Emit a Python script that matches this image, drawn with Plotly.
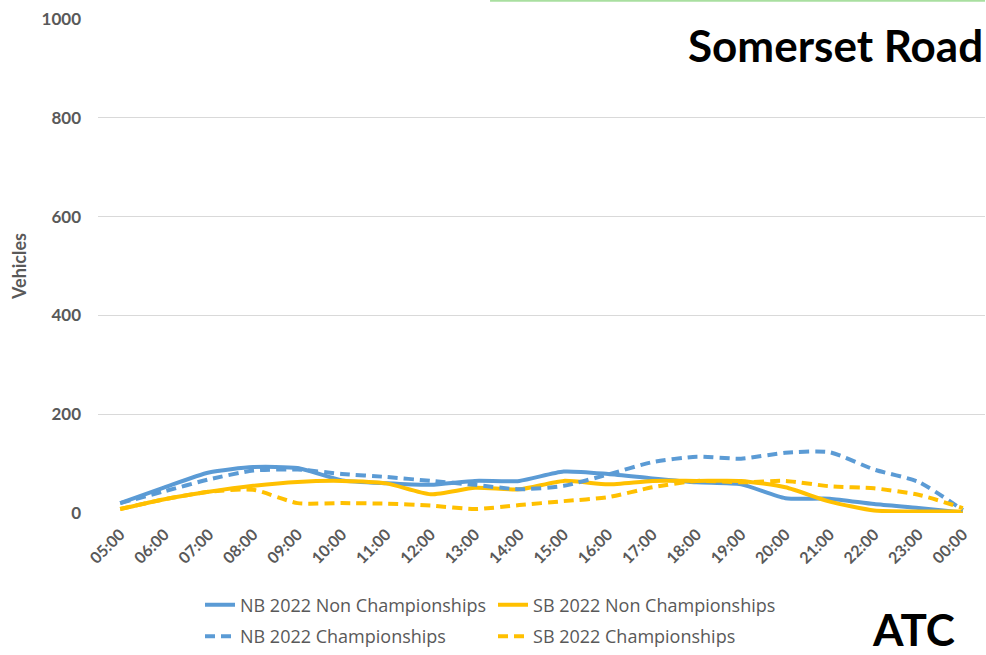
import plotly.graph_objects as go

hours = ["05:00","06:00","07:00","08:00","09:00","10:00","11:00","12:00","13:00","14:00",
         "15:00","16:00","17:00","18:00","19:00","20:00","21:00","22:00","23:00","00:00"]

nb_non = [20, 52, 82, 93, 91, 66, 60, 57, 65, 65, 84, 79, 70, 62, 58, 30, 29, 18, 10, 1]
sb_non = [8, 28, 43, 55, 63, 65, 60, 38, 51, 48, 65, 58, 65, 65, 65, 52, 23, 5, 3, 3]
nb_ch = [20, 44, 68, 86, 88, 79, 73, 65, 57, 48, 55, 78, 103, 114, 110, 122, 123, 88, 63, 6]
sb_ch = [8, 28, 43, 47, 20, 20, 19, 15, 8, 16, 24, 32, 52, 65, 62, 65, 54, 50, 37, 10]

y_ticks = [0, 200, 400, 600, 800, 1000]

BLUE = "#5B9BD5"
YELLOW = "#FFC000"
GREY = "#595959"
FONT = "Lato"

fig = go.Figure()
fig.add_trace(go.Scatter(x=hours, y=nb_non, mode="lines", name="NB 2022 Non Championships",
                         line=dict(color=BLUE, width=4, shape="spline", smoothing=0.6), legend="legend"))
fig.add_trace(go.Scatter(x=hours, y=sb_non, mode="lines", name="SB 2022 Non Championships",
                         line=dict(color=YELLOW, width=4, shape="spline", smoothing=0.6), legend="legend"))
fig.add_trace(go.Scatter(x=hours, y=nb_ch, mode="lines", name="NB 2022 Championships",
                         line=dict(color=BLUE, width=4, dash="10px,6px", shape="spline", smoothing=0.6), legend="legend2"))
fig.add_trace(go.Scatter(x=hours, y=sb_ch, mode="lines", name="SB 2022 Championships",
                         line=dict(color=YELLOW, width=4, dash="10px,6px", shape="spline", smoothing=0.6), legend="legend2"))

legend_common = dict(orientation="h", xanchor="left", yanchor="middle",
                     font=dict(family="Open Sans", size=18, color=GREY),
                     entrywidth=248, entrywidthmode="pixels", bgcolor="rgba(0,0,0,0)",
                     traceorder="normal", tracegroupgap=0)

fig.update_layout(
    width=986, height=655,
    margin=dict(l=98, r=1, t=19, b=141),
    paper_bgcolor="white", plot_bgcolor="white",
    showlegend=True,
    legend=dict(x=0.115, y=-0.184, **legend_common),
    legend2=dict(x=0.115, y=-0.248, **legend_common),
    xaxis=dict(type="category", range=[-0.5, 19.5], showgrid=False, showline=False,
               ticks="", tickangle=-45, ticklabelstandoff=8,
               tickfont=dict(family=FONT, size=16, color=GREY, weight="bold")),
    yaxis=dict(range=[0, 1000], tickvals=y_ticks, showgrid=True, gridcolor="#D9D9D9",
               gridwidth=1, zeroline=False, showline=False, ticks="", ticklabelstandoff=16,
               tickfont=dict(family=FONT, size=17, color=GREY, weight="bold"),
               title=dict(text="Vehicles", font=dict(family=FONT, size=18, color=GREY, weight="bold"),
                          standoff=10)),
    annotations=[
        dict(text="Somerset Road", x=1.0, y=0.947, xref="paper", yref="paper",
             xanchor="right", yanchor="middle", showarrow=False,
             font=dict(family=FONT, size=44, color="black", weight="bold")),
        dict(text="ATC", x=0.968, y=-0.234, xref="paper", yref="paper",
             xanchor="right", yanchor="middle", showarrow=False,
             font=dict(family=FONT, size=44, color="black", weight="bold")),
    ],
    shapes=[
        dict(type="line", xref="paper", yref="paper", x0=0.442, x1=1.0, y0=1.037, y1=1.037,
             line=dict(color="#A9DFA0", width=2)),
    ],
)

fig.write_html("out.html", config={"displayModeBar": False},
               post_script="document.body.style.margin='0';")
